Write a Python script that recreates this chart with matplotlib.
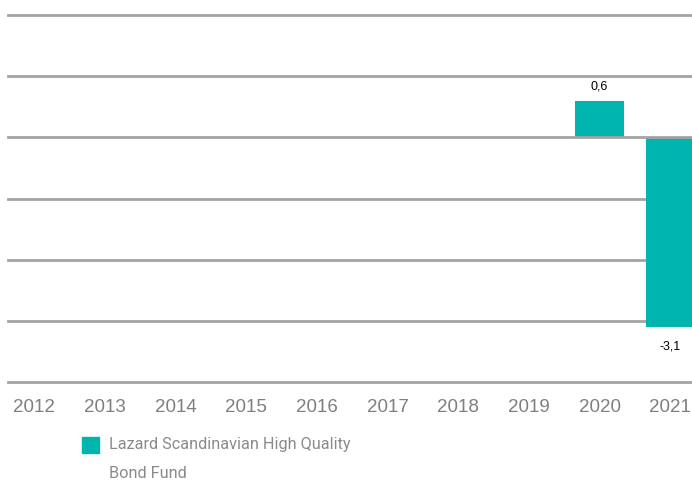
import matplotlib.pyplot as plt
from matplotlib.patches import Rectangle

years = [2012, 2013, 2014, 2015, 2016, 2017, 2018, 2019, 2020, 2021]
values = [None, None, None, None, None, None, None, None, 0.6, -3.1]
labels = ['', '', '', '', '', '', '', '', '0,6', '-3,1']
fund_name = 'Lazard Scandinavian High Quality'
fund_name2 = 'Bond Fund'

teal = '#00b5ad'
grid_col = '#a3a3a3'
text_col = '#7f7f7f'

fig = plt.figure(figsize=(6.92, 4.82), dpi=100)
ax = fig.add_axes([8 / 692, 100 / 482, 684 / 692, 367 / 482])

xs = [y for y, v in zip(years, values) if v is not None]
vs = [v for v in values if v is not None]
ax.bar(xs, vs, width=0.7, color=teal, zorder=2)

for g in range(-4, 3):
    ax.axhline(g, color=grid_col, lw=2, zorder=3 if g == 0 else 1, clip_on=False)

for y, v, lab in zip(years, values, labels):
    if v is None:
        continue
    off = 10 if v > 0 else -14
    ax.annotate(lab, (y, v), xytext=(0, off), textcoords='offset points',
                ha='center', va='center', fontsize=9, color='black',
                family='Liberation Sans')

ax.set_xlim(2011.632, 2021.307)
ax.set_ylim(-4, 2)
ax.set_xticks(years)
ax.set_xticklabels([str(y) for y in years], fontsize=13.5, color=text_col,
                   family='Liberation Sans')
ax.tick_params(axis='x', length=0, pad=12)
ax.set_yticks([])
for s in ax.spines.values():
    s.set_visible(False)

fig.add_artist(Rectangle((82 / 692, (482 - 453) / 482), 17 / 692, 16 / 482,
                         transform=fig.transFigure, color=teal))
fig.text(109 / 692, 1 - 445 / 482, fund_name, fontsize=11.7, color='#8a8a8a',
         va='center', ha='left', family='Roboto')
fig.text(109 / 692, 1 - 473 / 482, fund_name2, fontsize=11.7, color='#8a8a8a',
         va='center', ha='left', family='Roboto')

fig.savefig('out.png', dpi=100)
